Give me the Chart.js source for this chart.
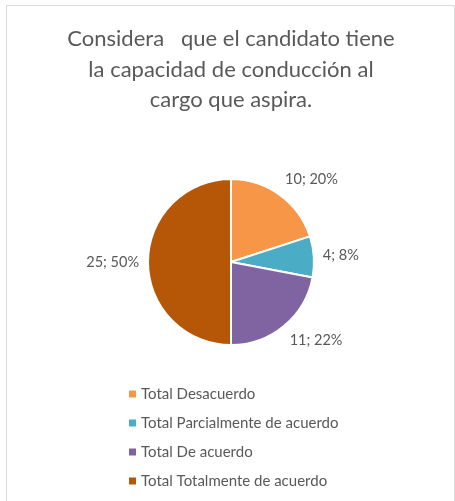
<!DOCTYPE html>
<html>
<head>
<meta charset="utf-8">
<script src="https://cdn.jsdelivr.net/npm/chart.js@4/dist/chart.umd.min.js"></script>
<style>
  html, body { margin: 0; padding: 0; background: #fff; }
  #wrap { position: relative; width: 455px; height: 501px; }
  #frame { position: absolute; left: 6px; top: 5px; width: 447px; height: 520px; border: 1px solid #D9D9D9; pointer-events: none; }
  canvas { position: absolute; left: 0; top: 0; }
</style>
</head>
<body>
<div id="wrap">
  <canvas id="pie" width="455" height="501"></canvas>
  <div id="frame"></div>
</div>
<script>
const TITLE = ["Considera   que el candidato tiene", "la capacidad de conducción al", "cargo que aspira."];
const labels = ["Total Desacuerdo", "Total Parcialmente de acuerdo", "Total De acuerdo", "Total Totalmente de acuerdo"];
const counts = [10, 4, 11, 25];
const percents = [20, 8, 22, 50];
const colors = ["#F79646", "#4BACC6", "#8064A2", "#B65708"];

const FONT = "Lato, 'Open Sans', sans-serif";
const TEXT = "#595959";

// "10; 20%" style labels just outside each slice
const outsideLabels = {
  id: "outsideLabels",
  afterDatasetsDraw(chart) {
    const { ctx } = chart;
    const meta = chart.getDatasetMeta(0);
    ctx.save();
    ctx.font = "14.5px " + FONT;
    ctx.fillStyle = TEXT;
    ctx.textBaseline = "middle";
    meta.data.forEach((arc, i) => {
      const { x, y, startAngle, endAngle, outerRadius } = arc.getProps(["x", "y", "startAngle", "endAngle", "outerRadius"], true);
      const mid = (startAngle + endAngle) / 2;
      const dx = Math.cos(mid), dy = Math.sin(mid);
      const px = x + (outerRadius + 9) * dx;
      const py = y + (outerRadius + 9) * dy + dy * 10;
      ctx.textAlign = dx >= 0 ? "left" : "right";
      ctx.fillText(`${counts[i]}; ${percents[i]}%`, px, py);
    });
    ctx.restore();
  },
};

// vertical legend under the pie
const stackedLegend = {
  id: "stackedLegend",
  afterDraw(chart) {
    const { ctx } = chart;
    const x0 = 129, y0 = 394, step = 29;
    ctx.save();
    ctx.font = "15px " + FONT;
    ctx.textBaseline = "middle";
    ctx.textAlign = "left";
    chart.data.labels.forEach((lab, i) => {
      const y = y0 + i * step;
      ctx.fillStyle = colors[i];
      ctx.fillRect(x0, y - 3.5, 7, 7);
      ctx.fillStyle = TEXT;
      ctx.fillText(lab, x0 + 12, y);
    });
    ctx.restore();
  },
};

new Chart(document.getElementById("pie"), {
  type: "pie",
  data: {
    labels,
    datasets: [{
      data: counts,
      backgroundColor: colors,
      borderColor: "#fff",
      borderWidth: 2,
      hoverOffset: 0,
      radius: 83,
    }],
  },
  options: {
    responsive: false,
    animation: false,
    layout: { padding: { left: 7, right: 0, top: 0, bottom: 136 } },
    plugins: {
      legend: { display: false },
      tooltip: { enabled: false },
      title: {
        display: true,
        text: TITLE,
        color: TEXT,
        font: { family: FONT, size: 22, weight: "normal", lineHeight: 1.38 },
        padding: { top: 24, bottom: 44 },
      },
    },
  },
  plugins: [outsideLabels, stackedLegend],
});
</script>
</body>
</html>
